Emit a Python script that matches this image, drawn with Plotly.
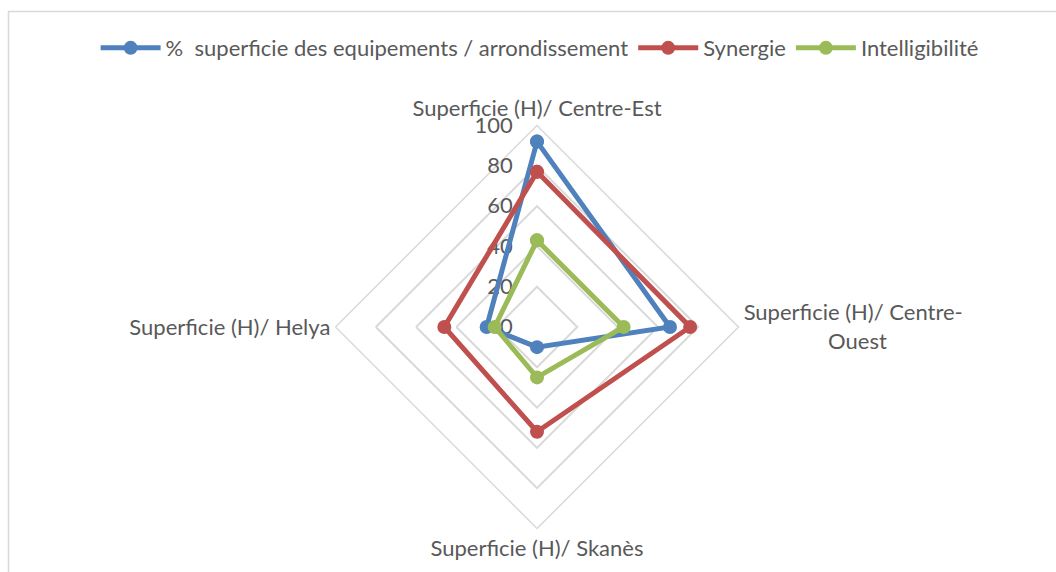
import plotly.graph_objects as go

NB = "\u00a0"
categories = [
    "Superficie (H)/ Centre-Est",
    "Superficie (H)/ Centre-<br>" + NB * 15 + "Ouest",
    "Superficie (H)/ Skanès",
    "Superficie (H)/ Helya",
]
series_names = [
    "%  superficie des equipements / arrondissement",
    "Synergie",
    "Intelligibilité",
]
superficie = [92, 66, 10, 25]
synergie = [77, 76, 52, 46]
intelligibilite = [43, 43, 25, 21]
radial_ticks = [0, 20, 40, 60, 80, 100]

colors = ["#4F81BD", "#C0504D", "#9BBB59"]
FONT = "Lato"
TXT = "#595959"

fig = go.Figure()
for name, vals, col in zip(series_names, [superficie, synergie, intelligibilite], colors):
    fig.add_trace(go.Scatterpolar(
        r=vals + vals[:1],
        theta=categories + categories[:1],
        mode="lines+markers",
        name=name,
        line=dict(color=col, width=5),
        marker=dict(color=col, size=14),
    ))

fig.update_layout(
    width=1056, height=572,
    margin=dict(l=0, r=0, t=0, b=0),
    paper_bgcolor="white",
    font=dict(family=FONT, size=22, color=TXT),
    showlegend=True,
    legend=dict(
        orientation="h", x=0.511, xanchor="center", y=0.916, yanchor="middle",
        font=dict(family=FONT, size=22, color=TXT),
        itemwidth=60, bgcolor="rgba(0,0,0,0)",
    ),
    polar=dict(
        domain=dict(x=[335.5 / 1056, 738.5 / 1056], y=[1 - 528.5 / 572, 1 - 125.5 / 572]),
        gridshape="linear",
        bgcolor="white",
        radialaxis=dict(
            range=[0, 100], tickvals=radial_ticks, angle=90, tickangle=90,
            side="counterclockwise",
            showline=False, ticks="outside", ticklen=16, tickcolor="rgba(0,0,0,0)",
            gridcolor="#D9D9D9", gridwidth=1.5, layer="below traces",
            tickfont=dict(family=FONT, size=22, color=TXT),
        ),
        angularaxis=dict(
            rotation=90, direction="clockwise", showgrid=False,
            showline=True, linecolor="#D9D9D9", linewidth=1.5, ticks="",
            tickfont=dict(family=FONT, size=22, color=TXT), layer="below traces",
        ),
    ),
    shapes=[dict(
        type="rect", xref="paper", yref="paper",
        x0=8.5 / 1056, x1=1.02, y0=-0.02, y1=1 - 11.5 / 572,
        line=dict(color="#D9D9D9", width=1.5), fillcolor="rgba(0,0,0,0)", layer="below",
    )],
)

fig.write_html("out.html")
